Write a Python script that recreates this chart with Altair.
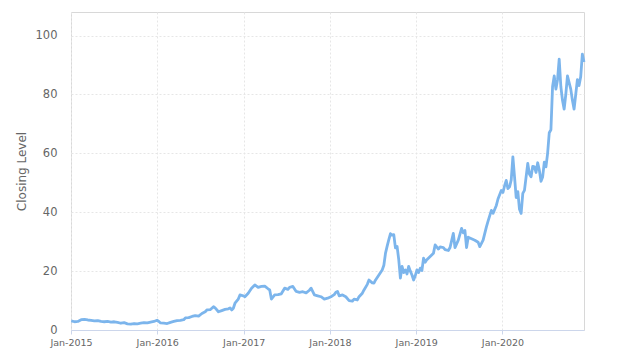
import altair as alt
import pandas as pd

dates_2015 = ["2015-01-02","2015-01-16","2015-01-30","2015-02-13","2015-02-27","2015-03-13","2015-03-27",
              "2015-04-10","2015-04-24","2015-05-08","2015-05-22","2015-06-05","2015-06-19","2015-07-03",
              "2015-07-17","2015-07-31","2015-08-14","2015-08-28","2015-09-11","2015-09-25","2015-10-09",
              "2015-10-23","2015-11-06","2015-11-20","2015-12-04","2015-12-18","2015-12-31"]
values_2015 = [3.1,2.8,2.9,3.5,3.6,3.4,3.3,3.1,3.2,2.9,2.8,2.9,2.7,2.8,2.6,2.3,2.5,2.1,2.0,2.2,2.1,
               2.3,2.5,2.4,2.7,2.9,3.3]

dates_2016 = ["2016-01-08","2016-01-15","2016-01-29","2016-02-12","2016-02-26","2016-03-11","2016-03-25",
              "2016-04-08","2016-04-22","2016-04-29","2016-05-13","2016-05-27","2016-06-10","2016-06-24",
              "2016-07-08","2016-07-22","2016-07-29","2016-08-12","2016-08-26","2016-09-02","2016-09-16",
              "2016-09-30","2016-10-14","2016-10-28","2016-11-04","2016-11-11","2016-11-18","2016-11-25",
              "2016-12-09","2016-12-16","2016-12-30"]
values_2016 = [2.9,2.4,2.3,2.2,2.6,2.9,3.2,3.3,3.5,4.1,4.2,4.6,4.9,4.7,5.6,6.2,6.8,6.9,7.9,7.5,6.2,
               6.6,7.0,7.2,7.5,6.8,7.4,9.1,10.5,11.9,11.6]

dates_2017 = ["2017-01-06","2017-01-20","2017-02-03","2017-02-17","2017-03-03","2017-03-17","2017-03-31",
              "2017-04-14","2017-04-21","2017-04-28","2017-05-12","2017-05-26","2017-06-09","2017-06-23",
              "2017-07-07","2017-07-14","2017-07-28","2017-08-11","2017-08-25","2017-09-08","2017-09-22",
              "2017-10-06","2017-10-13","2017-10-27","2017-11-10","2017-11-24","2017-12-08","2017-12-22"]
values_2017 = [11.3,12.5,14.2,15.3,14.5,14.8,14.9,14.0,13.6,10.5,11.9,12.0,12.3,14.2,13.8,14.5,14.8,
               13.1,12.8,13.0,12.6,13.5,14.2,11.9,11.6,11.3,10.5,10.8]

dates_2018 = ["2018-01-05","2018-01-19","2018-01-26","2018-02-02","2018-02-09","2018-02-23","2018-03-09",
              "2018-03-23","2018-04-06","2018-04-13","2018-04-27","2018-05-04","2018-05-18","2018-05-25",
              "2018-06-08","2018-06-15","2018-06-29","2018-07-06","2018-07-13","2018-07-27","2018-08-10",
              "2018-08-17","2018-08-24","2018-08-31","2018-09-07","2018-09-14","2018-09-21","2018-09-28",
              "2018-10-05","2018-10-12","2018-10-19","2018-10-26","2018-11-02","2018-11-09","2018-11-16",
              "2018-11-23","2018-11-30","2018-12-07","2018-12-14","2018-12-21","2018-12-28"]
values_2018 = [11.3,12.0,12.8,13.1,11.6,11.9,11.3,10.0,9.8,10.5,10.2,11.3,12.5,13.6,15.5,17.0,16.0,
               15.9,17.0,18.7,20.4,22.0,26.1,28.5,30.7,32.7,32.2,32.4,27.9,28.4,23.9,17.6,21.6,19.5,
               20.4,19.0,21.6,20.0,18.7,17.0,18.5]

dates_2019 = ["2019-01-04","2019-01-11","2019-01-18","2019-01-25","2019-02-01","2019-02-08","2019-02-15",
              "2019-03-01","2019-03-15","2019-03-22","2019-04-05","2019-04-12","2019-04-26","2019-05-03",
              "2019-05-17","2019-05-24","2019-06-07","2019-06-14","2019-06-28","2019-07-12","2019-07-19",
              "2019-07-26","2019-08-02","2019-08-09","2019-08-23","2019-09-06","2019-09-20","2019-09-27",
              "2019-10-11","2019-10-25","2019-11-01","2019-11-15","2019-11-22","2019-12-06","2019-12-13",
              "2019-12-27"]
values_2019 = [20.4,19.5,21.0,20.2,24.4,23.0,23.9,25.0,26.1,28.9,27.5,28.2,28.0,27.3,27.0,28.0,32.8,
               28.0,30.5,34.5,33.0,33.8,28.0,31.5,31.0,30.5,29.8,28.3,30.5,35.0,37.0,40.6,39.6,42.3,
               44.5,47.4]

dates_2020 = ["2020-01-03","2020-01-10","2020-01-17","2020-01-24","2020-01-31","2020-02-07","2020-02-14",
              "2020-02-21","2020-02-28","2020-03-06","2020-03-13","2020-03-20","2020-03-27","2020-04-03",
              "2020-04-10","2020-04-17","2020-04-24","2020-05-01","2020-05-08","2020-05-15","2020-05-22",
              "2020-05-29","2020-06-05","2020-06-12","2020-06-19","2020-06-26","2020-07-03","2020-07-10",
              "2020-07-17","2020-07-24","2020-07-31","2020-08-07","2020-08-14","2020-08-21","2020-08-28",
              "2020-09-04","2020-09-11","2020-09-18","2020-09-25","2020-10-02","2020-10-09","2020-10-16",
              "2020-10-23","2020-10-30","2020-11-06","2020-11-13","2020-11-20","2020-11-27","2020-12-04",
              "2020-12-11"]
values_2020 = [46.7,49.0,50.8,48.0,48.6,51.0,58.8,52.0,45.0,47.0,41.0,39.6,46.4,47.4,52.0,56.6,53.0,
               52.0,55.6,55.4,53.5,56.8,54.3,50.5,52.0,57.0,55.4,60.0,67.0,68.0,82.7,86.3,81.8,85.0,
               92.0,82.7,78.0,75.0,80.0,86.3,84.0,81.8,78.0,75.0,80.0,85.0,83.0,86.0,93.7,91.0]

dates = dates_2015 + dates_2016 + dates_2017 + dates_2018 + dates_2019 + dates_2020
values = values_2015 + values_2016 + values_2017 + values_2018 + values_2019 + values_2020

df = pd.DataFrame({"date": dates, "close": values})

y_ticks = [0, 20, 40, 60, 80, 100]
x_tick_years = [2015, 2016, 2017, 2018, 2019, 2020]

FONT = "DejaVu Sans"
LABEL = "#666666"
GRID = "#e6e6e6"

chart = alt.Chart(df).mark_line(color="#7cb5ec", strokeWidth=2.8, strokeJoin="round").encode(
    x=alt.X("date:T", title=None,
            scale=alt.Scale(domain=[alt.DateTime(year=2015, month=1, date=1),
                                    alt.DateTime(year=2020, month=12, date=11)], nice=False),
            axis=alt.Axis(values=[alt.DateTime(year=y, month=1, date=1) for y in x_tick_years],
                          format="%b-%Y", labelFont=FONT, labelFontSize=9.5, labelColor=LABEL,
                          grid=True, gridColor=GRID, gridDash=[2, 2], gridWidth=1,
                          domainColor="#ccd6eb", tickColor="#ccd6eb", tickSize=4,
                          labelPadding=3, labelFlush=False)),
    y=alt.Y("close:Q", title="Closing Level",
            scale=alt.Scale(domain=[0, 108], nice=False),
            axis=alt.Axis(values=y_ticks, labelFont=FONT, labelFontSize=11.5, labelColor=LABEL,
                          titleFont=FONT, titleFontSize=12, titleColor=LABEL, titleFontWeight="normal",
                          titlePadding=7, ticks=False, labelPadding=14, domain=False,
                          grid=True, gridColor=GRID, gridDash=[2, 2], gridWidth=1)),
).properties(
    width=513, height=318,
    autosize=alt.AutoSizeParams(type="none"),
    padding={"left": 63, "top": 4, "right": 30, "bottom": 30},
).configure_view(stroke="#d8d8d8", strokeWidth=1)

chart.save("out.html", embed_options={"renderer": "svg", "actions": False})
